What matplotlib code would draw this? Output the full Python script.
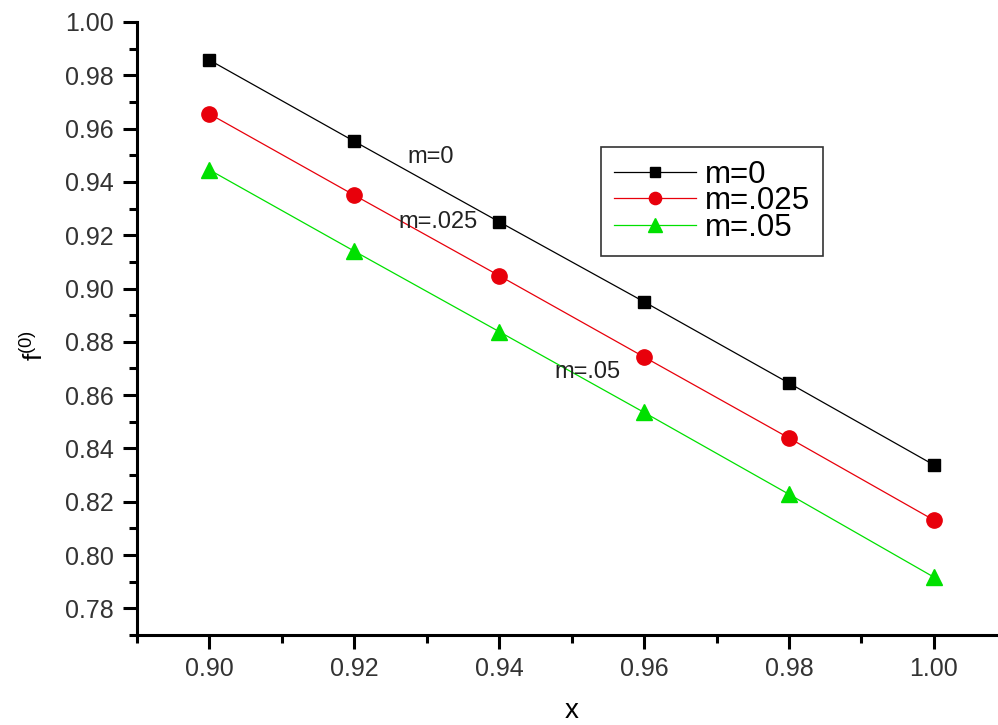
import numpy as np
import matplotlib
matplotlib.use("Agg")
import matplotlib.pyplot as plt
from matplotlib.ticker import MultipleLocator, FormatStrFormatter

plt.rcParams['font.family'] = ['Liberation Sans', 'DejaVu Sans']
plt.rcParams['mathtext.fontset'] = 'custom'
plt.rcParams['mathtext.rm'] = 'Liberation Sans'
plt.rcParams['mathtext.it'] = 'Liberation Sans:italic'

x = [0.90, 0.92, 0.94, 0.96, 0.98, 1.00]
f_m0 = [0.9857, 0.9552, 0.9250, 0.8950, 0.8645, 0.8338]
f_m025 = [0.9655, 0.9350, 0.9048, 0.8743, 0.8439, 0.8131]
f_m05 = [0.9445, 0.9140, 0.8838, 0.8535, 0.8228, 0.7917]
labels = ["m=0", "m=.025", "m=.05"]

fig = plt.figure(figsize=(9.98, 7.25), dpi=100)
ax = fig.add_axes([0.1373, 0.1241, 0.8711, 0.8456])

ax.plot(x, f_m0, color="black", lw=0.9, marker="s", ms=9, label=labels[0])
ax.plot(x, f_m025, color="#e8000b", lw=0.9, marker="o", ms=11, label=labels[1])
ax.plot(x, f_m05, color="#00e000", lw=0.9, marker="^", ms=12, label=labels[2])

ax.set_xlim(0.89, 1.01)
ax.set_ylim(0.77, 1.00)
ax.xaxis.set_major_locator(MultipleLocator(0.02))
ax.xaxis.set_minor_locator(MultipleLocator(0.01))
ax.yaxis.set_major_locator(MultipleLocator(0.02))
ax.yaxis.set_minor_locator(MultipleLocator(0.01))
ax.xaxis.set_major_formatter(FormatStrFormatter('%.2f'))
ax.yaxis.set_major_formatter(FormatStrFormatter('%.2f'))

for s in ['top', 'right']:
    ax.spines[s].set_visible(False)
for s in ['left', 'bottom']:
    ax.spines[s].set_linewidth(2.2)
ax.tick_params(which='major', length=10, width=2.2, labelsize=18, colors='black',
               labelcolor='#333333')
ax.tick_params(which='minor', length=6, width=2.2)
ax.tick_params(axis='x', pad=6)
ax.tick_params(axis='y', pad=7)

ax.set_xlabel("x", fontsize=20, labelpad=12)
ax.set_ylabel("f$^{(0)}$", fontsize=19, labelpad=12)
ax.yaxis.label.set_y(0.473)

# curve labels placed next to the lines
ax.text(0.9305, 0.9493, "m=0", fontsize=17, ha='center', va='center', color='#222222')
ax.text(0.9315, 0.9250, "m=.025", fontsize=17, ha='center', va='center', color='#222222')
ax.text(0.9522, 0.8687, "m=.05", fontsize=17, ha='center', va='center', color='#222222')

leg = ax.legend(loc='upper left', bbox_to_anchor=(0.534, 0.796), fontsize=22.5,
                frameon=True, fancybox=False, edgecolor='black', handlelength=2.6,
                handletextpad=0.3, borderpad=0.42, labelspacing=-0.12, borderaxespad=0,
                markerscale=0.8)
leg.get_frame().set_linewidth(1.2)

fig.savefig("out.png", dpi=100)
